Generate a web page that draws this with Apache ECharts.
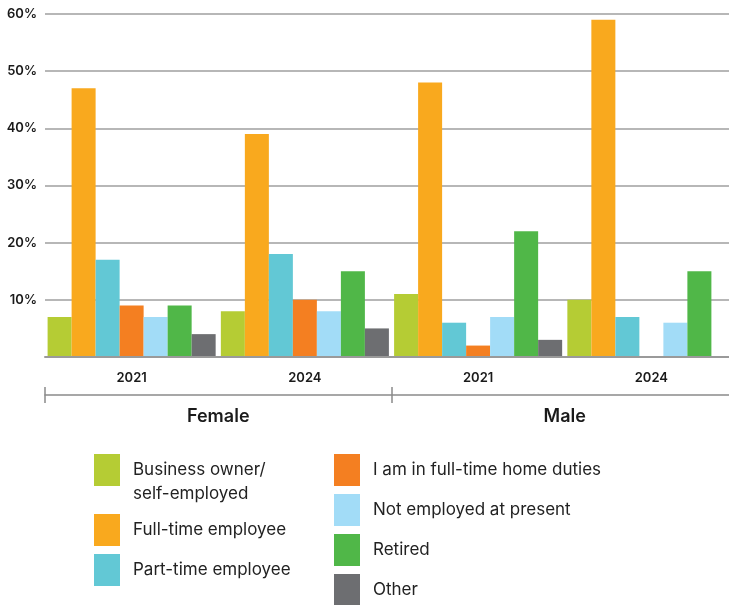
<!DOCTYPE html>
<html>
<head>
<meta charset="utf-8">
<script src="https://cdn.jsdelivr.net/npm/echarts@6/dist/echarts.min.js"></script>
<style>
html,body{margin:0;padding:0;background:#fff;overflow:hidden;width:729px;height:605px;}
#c{width:738px;height:605px;}
</style>
</head>
<body>
<div id="c"></div>
<script>
const years = ['2021', '2024', '2021', '2024'];
const genders = ['Female', 'Male'];
const yTicks = [0, 10, 20, 30, 40, 50, 60];

const seriesNames = [
  'Business owner/ self-employed',
  'Full-time employee',
  'Part-time employee',
  'I am in full-time home duties',
  'Not employed at present',
  'Retired',
  'Other'
];
const businessOwner = [7, 8, 11, 10];
const fullTime = [47, 39, 48, 59];
const partTime = [17, 18, 6, 7];
const homeDuties = [9, 10, 2, 0];
const notEmployed = [7, 8, 7, 6];
const retired = [9, 15, 22, 15];
const other = [4, 5, 3, 0];

const values = [businessOwner, fullTime, partTime, homeDuties, notEmployed, retired, other];
const colors = ['#B5CC34', '#F9A91E', '#62C8D5', '#F47F21', '#A2DCF7', '#50B748', '#6D6E71'];

const FONT = 'Inter';
const chart = echarts.init(document.getElementById('c'));

const legendText = {
  fontFamily: FONT, fontSize: 17, color: '#222', padding: [0, 0, 0, 8]
};

chart.setOption({
  animation: false,
  textStyle: { fontFamily: FONT },
  grid: { left: 45, top: 14, right: 0, height: 343, containLabel: false },
  xAxis: [
    {
      type: 'category', data: years, gridIndex: 0,
      axisLine: { show: true, lineStyle: { color: '#9a9a9a', width: 2 } },
      axisTick: { show: false },
      axisLabel: { fontFamily: FONT, fontSize: 13, fontWeight: 600, color: '#1a1a1a', margin: 15 },
      z: 10
    },
    {
      type: 'category', data: genders, gridIndex: 0, position: 'bottom', offset: 38,
      axisLine: { show: true, lineStyle: { color: '#8a8a8a', width: 1.5 } },
      axisTick: { show: true, interval: 0, length: 8, lineStyle: { color: '#8a8a8a', width: 1.5 } },
      axisLabel: { fontFamily: FONT, fontSize: 18, fontWeight: 600, color: '#1a1a1a', margin: 13 }
    },
    {
      type: 'category', data: genders, gridIndex: 0, position: 'bottom', offset: 38,
      axisLine: { show: false },
      axisTick: { show: true, inside: true, interval: 0, length: 8, lineStyle: { color: '#8a8a8a', width: 1.5 } },
      axisLabel: { show: false }
    }
  ],
  yAxis: {
    type: 'value', min: yTicks[0], max: yTicks[yTicks.length - 1], interval: 10,
    axisLine: { show: false }, axisTick: { show: false },
    splitLine: { lineStyle: { color: '#9f9f9f', width: 1.5 } },
    axisLabel: {
      fontFamily: FONT, fontSize: 13, fontWeight: 600, color: '#1a1a1a', margin: 8,
      formatter: v => v === 0 ? '' : v + '%'
    }
  },
  legend: [
    {
      data: [seriesNames[0]], orient: 'vertical', left: 94, top: 434, padding: 0,
      itemWidth: 26, itemHeight: 32, icon: 'rect', height: 100,
      formatter: () => ' \nBusiness owner/\nself-employed',
      textStyle: Object.assign({}, legendText, { lineHeight: 24 })
    },
    {
      data: [seriesNames[1], seriesNames[2]], orient: 'vertical', left: 94, top: 514, padding: 0,
      itemWidth: 26, itemHeight: 32, itemGap: 8, icon: 'rect', height: 100, textStyle: legendText
    },
    {
      data: seriesNames.slice(3), orient: 'vertical', left: 334, top: 454, padding: 0,
      itemWidth: 26, itemHeight: 32, itemGap: 8, icon: 'rect', height: 200, textStyle: legendText
    }
  ],
  series: seriesNames.map((name, i) => ({
    name, type: 'bar', xAxisIndex: 0,
    data: values[i],
    barGap: 0, barCategoryGap: '3%',
    itemStyle: { color: colors[i] }
  }))
});
</script>
</body>
</html>
